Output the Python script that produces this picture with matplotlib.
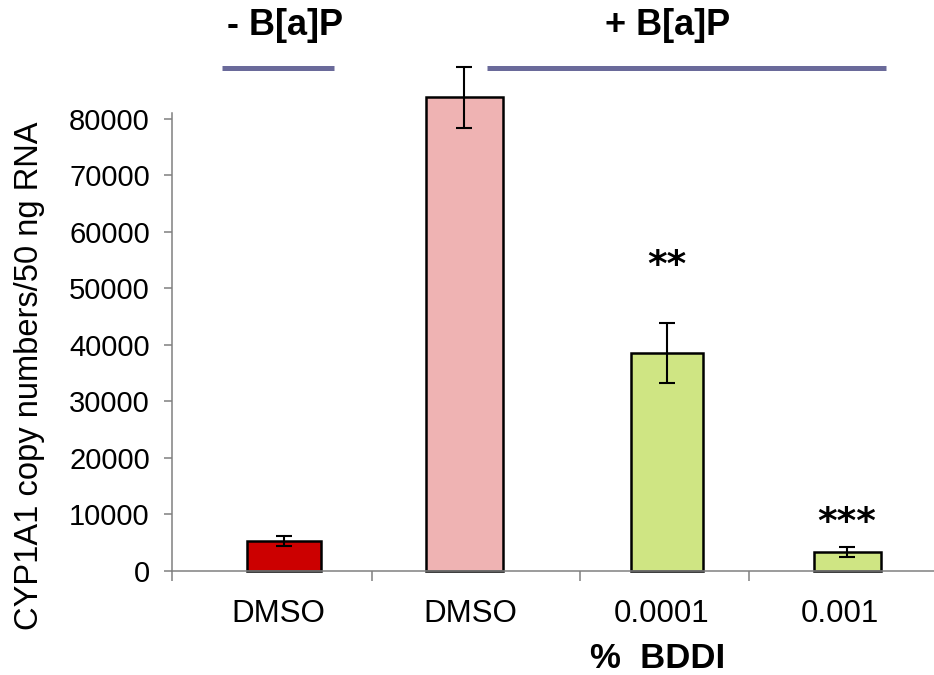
import matplotlib
matplotlib.use('Agg')
import matplotlib.pyplot as plt

plt.rcParams['font.family'] = ['Liberation Sans', 'DejaVu Sans']

# data
groups = ['DMSO', 'DMSO', '0.0001', '0.001']
copies = [5300, 83800, 38500, 3400]
errs = [850, 5400, 5300, 850]
colors = ['#cc0000', '#efb3b3', '#cfe583', '#cfe583']
stars = ['', '', '**', '***']
star_y = [0, 0, 54000, 8500]

# layout (x in pixel-like units from the y axis)
xpos = [112, 292, 495, 675]
widths = [74, 77, 72, 67]
lab_x = [106, 298, 490, 668]
sep_x = [0, 200, 408, 577]

fig = plt.figure(figsize=(9.34, 6.75), dpi=100)
ax = fig.add_axes([172/934, 104/675, 1 - 172/934, 458/675])

ax.bar(xpos, copies, width=widths, color=colors, edgecolor='black',
       linewidth=1.8, clip_on=False, zorder=2)
ax.errorbar(xpos, copies, yerr=errs, fmt='none', ecolor='black',
            elinewidth=1.5, capsize=6, capthick=1.5, clip_on=False, zorder=3)

ax.set_xlim(0, 762)
ax.set_ylim(0, 81000)
ax.set_yticks(range(0, 80001, 10000))
ax.tick_params(axis='y', labelsize=21, length=6, width=1.1, color='#808080', pad=10)
ax.set_xticks(sep_x)
ax.set_xticklabels([])
ax.tick_params(axis='x', length=7, width=1.1, color='#808080')

for s in ['top', 'right']:
    ax.spines[s].set_visible(False)
for s in ['left', 'bottom']:
    ax.spines[s].set_color('#808080')
    ax.spines[s].set_linewidth(1.1)

fig.text(29.5/934, 1 - 376/675, 'CYP1A1 copy numbers/50 ng RNA', rotation=90,
         ha='center', va='center', fontsize=23.5)

xt = ax.get_xaxis_transform()
for x, g in zip(lab_x, groups):
    ax.text(x, -0.094, g, transform=xt, ha='center', va='center', fontsize=22.5)
ax.text(486, -0.19, '%  BDDI', transform=xt, ha='center', va='center',
        fontsize=25, fontweight='bold')

for x, s, y in zip(xpos, stars, star_y):
    if s:
        ax.text(x, y, s, ha='center', va='center', fontsize=27,
                family='DejaVu Sans', fontweight='bold')

# treatment header
ax.plot([50, 162], [1.098, 1.098], transform=xt, color='#6a6a9a', lw=3.6,
        clip_on=False, solid_capstyle='butt')
ax.plot([315, 714], [1.098, 1.098], transform=xt, color='#6a6a9a', lw=3.6,
        clip_on=False, solid_capstyle='butt')
ax.text(113, 1.19, '- B[a]P', transform=xt, ha='center', va='center',
        fontsize=26, fontweight='bold')
ax.text(496, 1.19, '+ B[a]P', transform=xt, ha='center', va='center',
        fontsize=26, fontweight='bold')

fig.savefig('out.png', dpi=100)
